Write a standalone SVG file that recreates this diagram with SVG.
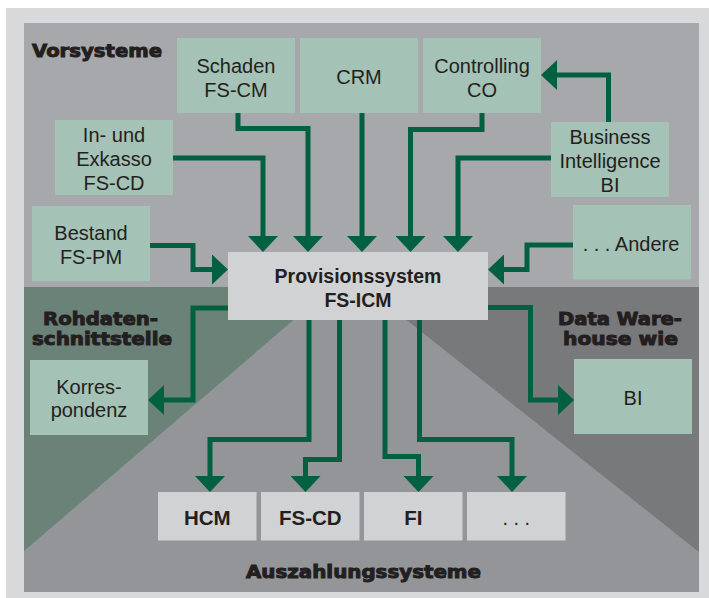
<svg xmlns="http://www.w3.org/2000/svg" width="709" height="598" viewBox="0 0 709 598">
<style>
.gbox{fill:#a4c2b5}
.lbox{fill:#d1d2d4}
.t{font-family:"Liberation Sans",Arial,sans-serif;font-size:20px;fill:#231f20;text-anchor:middle}
.tb{font-family:"Liberation Sans",Arial,sans-serif;font-size:20.5px;font-weight:bold;fill:#231f20;text-anchor:middle}
.tc{font-family:"Liberation Sans",Arial,sans-serif;font-size:19.5px;font-weight:bold;fill:#231f20;text-anchor:middle}
.h{font-family:"DejaVu Sans","Liberation Sans",sans-serif;font-size:18px;font-weight:bold;fill:#231f20;stroke:#231f20;stroke-width:1}
.c{fill:none;stroke:#00603f;stroke-width:5;stroke-linejoin:miter;stroke-linecap:butt;marker-end:url(#ah)}
</style>
<defs>
<marker id="ah" markerUnits="userSpaceOnUse" viewBox="0 0 16 30" markerWidth="16" markerHeight="30" refX="1" refY="15" orient="auto">
<path d="M0,0 L16,15 L0,30 Z" fill="#00603f"/>
</marker>
</defs>
<rect x="0" y="0" width="709" height="598" fill="#ffffff"/>
<rect x="6" y="8" width="703" height="590" fill="#d8d9db"/>
<g id="background">
<rect x="24" y="23" width="675" height="264" fill="#a7a8ab"/>
<rect x="24" y="287" width="675" height="305" fill="#939598"/>
<polygon points="24,287 332,287 24,551" fill="#6b8279"/>
<polygon points="365,287 699,287 699,552" fill="#78797b"/>
</g>
<g id="labels">
<text class="h" x="32" y="57" textLength="130" lengthAdjust="spacingAndGlyphs">Vorsysteme</text>
<text class="h" x="43" y="325" textLength="115" lengthAdjust="spacingAndGlyphs">Rohdaten-</text>
<text class="h" x="32" y="345" textLength="140" lengthAdjust="spacingAndGlyphs">schnittstelle</text>
<text class="h" x="558" y="325" textLength="124" lengthAdjust="spacingAndGlyphs">Data Ware-</text>
<text class="h" x="563" y="345" textLength="115" lengthAdjust="spacingAndGlyphs">house wie</text>
<text class="h" x="246" y="578" textLength="235" lengthAdjust="spacingAndGlyphs">Auszahlungssysteme</text>
</g>
<g id="connectors">
<path class="c" d="M238,113 V128.5 H308 V237"/>
<path class="c" d="M173,158 H263 V237"/>
<path class="c" d="M150,245.5 H193 V269.5 H213"/>
<path class="c" d="M362,113 V237"/>
<path class="c" d="M482,113 V129.5 H410.5 V237"/>
<path class="c" d="M551,158 H458 V237"/>
<path class="c" d="M608.5,122 V75 H556"/>
<path class="c" d="M573,245 H527 V269.5 H503"/>
<path class="c" d="M228,308 H193 V400 H163"/>
<path class="c" d="M309,320 V439.5 H210 V477"/>
<path class="c" d="M339.5,320 V459.5 H305.5 V477"/>
<path class="c" d="M385,320 V456.5 H418.5 V477"/>
<path class="c" d="M419.5,320 V439.5 H512 V477"/>
<path class="c" d="M488,307.5 H530.5 V400 H559"/>
</g>
<g id="schaden"><rect class="gbox" x="177" y="38" width="118" height="75"/><text class="t" x="236" y="73">Schaden</text><text class="t" x="236" y="96.5">FS-CM</text></g>
<g id="crm"><rect class="gbox" x="300" y="38" width="118" height="75"/><text class="t" x="359" y="83.5">CRM</text></g>
<g id="controlling"><rect class="gbox" x="423" y="38" width="118" height="75"/><text class="t" x="482" y="73">Controlling</text><text class="t" x="482" y="96.5">CO</text></g>
<g id="exkasso"><rect class="gbox" x="55" y="120" width="118" height="75"/><text class="t" x="114" y="142">In- und</text><text class="t" x="114" y="166">Exkasso</text><text class="t" x="114" y="190">FS-CD</text></g>
<g id="bi-source"><rect class="gbox" x="551" y="122" width="118" height="75"/><text class="t" x="610" y="143.5">Business</text><text class="t" x="610" y="167.5">Intelligence</text><text class="t" x="610" y="191.5">BI</text></g>
<g id="bestand"><rect class="gbox" x="32" y="206" width="118" height="75"/><text class="t" x="91" y="240">Bestand</text><text class="t" x="91" y="263.5">FS-PM</text></g>
<g id="andere"><rect class="gbox" x="573" y="205" width="118" height="74.5"/><text class="t" x="631" y="251">. . . Andere</text></g>
<g id="provision"><rect class="lbox" x="228" y="252" width="260" height="68"/><text class="tc" x="358" y="282.5">Provisionssystem</text><text class="tc" x="358" y="306.5">FS-ICM</text></g>
<g id="korrespondenz"><rect class="gbox" x="30" y="360" width="118" height="75"/><text class="t" x="89" y="393.5">Korres-</text><text class="t" x="89" y="417">pondenz</text></g>
<g id="bi-target"><rect class="gbox" x="574" y="359" width="118" height="75"/><text class="t" x="633" y="404.5">BI</text></g>
<g id="hcm"><rect class="lbox" x="158" y="492" width="98.5" height="48.5"/><text class="tb" x="207.3" y="524.5">HCM</text></g>
<g id="fscd"><rect class="lbox" x="261" y="492" width="98.5" height="48.5"/><text class="tb" x="310.3" y="524.5">FS-CD</text></g>
<g id="fi"><rect class="lbox" x="364" y="492" width="98.5" height="48.5"/><text class="tb" x="413.3" y="524.5">FI</text></g>
<g id="more"><rect class="lbox" x="467" y="492" width="98.5" height="48.5"/><text class="t" x="516.3" y="524.5">. . .</text></g>
</svg>
